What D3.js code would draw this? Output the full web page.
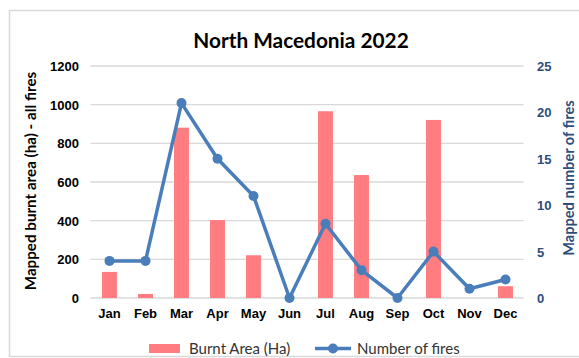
<!DOCTYPE html>
<html><head><meta charset="utf-8">
<script src="https://cdn.jsdelivr.net/npm/d3@7"></script>
<style>body{margin:0;background:#fff}svg{display:block;font-family:Lato,"Open Sans",sans-serif}</style>
</head><body><svg id="c" width="579" height="358"></svg>
<script>
const months = ["Jan","Feb","Mar","Apr","May","Jun","Jul","Aug","Sep","Oct","Nov","Dec"];
const burntArea = [135,21,881,403,221,0,966,636,0,921,0,61];
const numFires = [4,4,21,15,11,0,8,3,0,5,1,2];
const leftTicks = [0,200,400,600,800,1000,1200];
const rightTicks = [0,5,10,15,20,25];

const svg = d3.select("#c");
const m = {l:91.5, r:523.5, t:66, b:298};
const x = d3.scaleBand().domain(months).range([m.l,m.r]).paddingInner(0.585).paddingOuter(0.2925);
const yL = d3.scaleLinear().domain([0,1200]).range([m.b,m.t]);
const yR = d3.scaleLinear().domain([0,25]).range([m.b,m.t]);

svg.append("rect").attr("x",9.5).attr("y",10.5).attr("width",600).attr("height",346)
  .attr("fill","none").attr("stroke","#d9d9d9").attr("stroke-width",1.5);

svg.append("g").selectAll("line").data(leftTicks).join("line")
  .attr("x1",m.l-1).attr("x2",m.r).attr("y1",d=>yL(d)).attr("y2",d=>yL(d))
  .attr("stroke","#d9d9d9").attr("stroke-width",1.3);

const gL = svg.append("g").attr("transform",`translate(79,0)`)
  .call(d3.axisLeft(yL).tickValues(leftTicks).tickFormat(d3.format("d")).tickSize(0).tickPadding(0));
gL.select(".domain").remove();
gL.selectAll("text").attr("font-size",13).attr("font-weight","bold").attr("fill","#000").attr("dy","0.35em");

const gR = svg.append("g").attr("transform",`translate(537,0)`)
  .call(d3.axisRight(yR).tickValues(rightTicks).tickSize(0).tickPadding(0));
gR.select(".domain").remove();
gR.selectAll("text").attr("font-size",13).attr("font-weight","bold").attr("fill","#2E4D7B").attr("dy","0.35em");

const gX = svg.append("g").attr("transform",`translate(0,${m.b+9})`)
  .call(d3.axisBottom(x).tickSize(0).tickPadding(0));
gX.select(".domain").remove();
gX.selectAll("text").attr("font-size",13).attr("font-weight","bold").attr("fill","#000").attr("dy","0.85em");

svg.append("g").selectAll("rect").data(burntArea).join("rect")
  .attr("x",(d,i)=>x(months[i])).attr("width",x.bandwidth())
  .attr("y",d=>yL(d)).attr("height",d=>yL(0)-yL(d)).attr("fill","#FF7C80");

const line = d3.line().x((d,i)=>x(months[i])+x.bandwidth()/2).y(d=>yR(d));
svg.append("path").datum(numFires).attr("d",line).attr("fill","none")
  .attr("stroke","#4A7EBB").attr("stroke-width",3.5).attr("stroke-linejoin","round");
svg.append("g").selectAll("circle").data(numFires).join("circle")
  .attr("cx",(d,i)=>x(months[i])+x.bandwidth()/2).attr("cy",d=>yR(d)).attr("r",5)
  .attr("fill","#4A7EBB");

svg.append("text").attr("x",301).attr("y",48).attr("text-anchor","middle")
  .attr("font-size",20.8).attr("font-weight","bold").attr("fill","#000").text("North Macedonia 2022");

svg.append("text").attr("transform","translate(36,181) rotate(-90)").attr("text-anchor","middle")
  .attr("font-size",15.2).attr("font-weight","bold").attr("fill","#000").text("Mapped burnt area (ha) - all fires");
svg.append("text").attr("transform","translate(574,178) rotate(-90)").attr("text-anchor","middle")
  .attr("font-size",14.6).attr("font-weight","bold").attr("fill","#2E4D7B").text("Mapped number of fires");

const lg = svg.append("g");
lg.append("rect").attr("x",149).attr("y",344).attr("width",31).attr("height",9).attr("fill","#FF7C80");
lg.append("text").attr("x",189).attr("y",353.5).attr("font-size",15).attr("fill","#333").text("Burnt Area (Ha)");
lg.append("line").attr("x1",315).attr("x2",351).attr("y1",348.5).attr("y2",348.5).attr("stroke","#4A7EBB").attr("stroke-width",3.5);
lg.append("circle").attr("cx",333).attr("cy",348.5).attr("r",5).attr("fill","#4A7EBB");
lg.append("text").attr("x",357).attr("y",353.5).attr("font-size",15).attr("fill","#333").text("Number of fires");
</script></body></html>
